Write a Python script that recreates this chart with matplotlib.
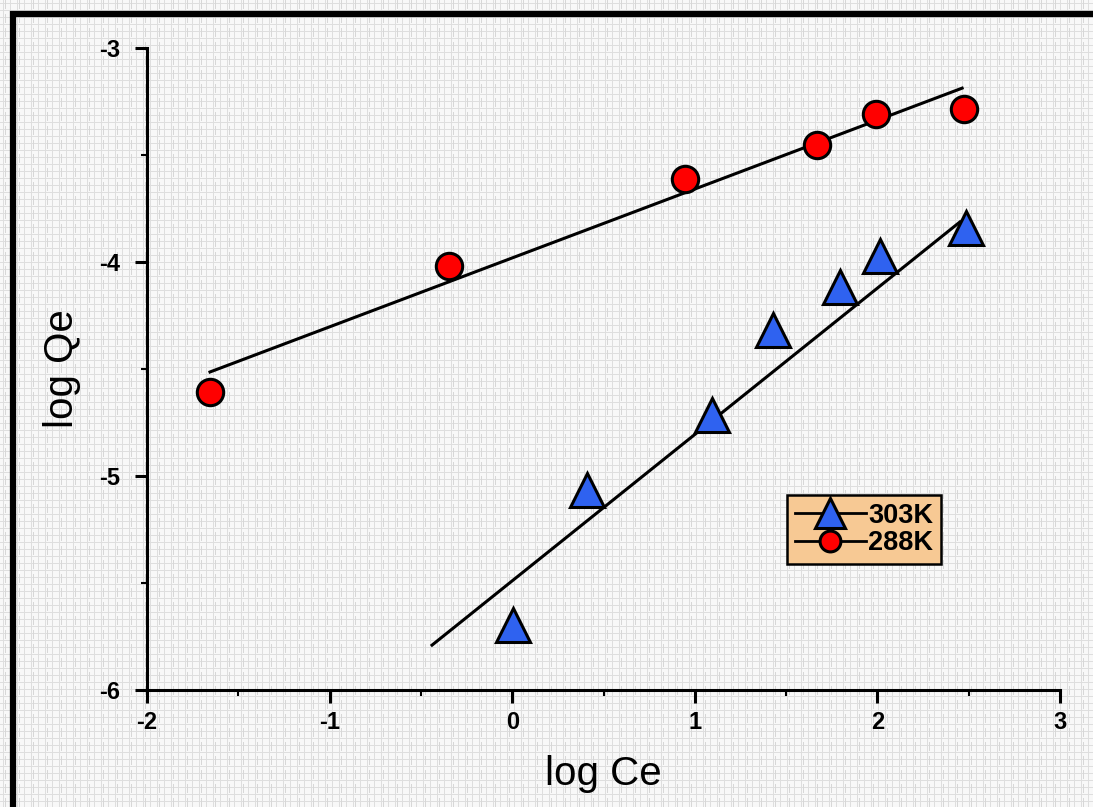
import numpy as np
import matplotlib
matplotlib.use('Agg')
import matplotlib.pyplot as plt
from matplotlib.lines import Line2D
from matplotlib.ticker import MultipleLocator

plt.rcParams['font.family'] = ['Liberation Sans', 'DejaVu Sans']
plt.rcParams['axes.unicode_minus'] = False

# Freundlich isotherm data, log Ce vs log Qe
logce_288 = [-1.655, -0.346, 0.946, 1.669, 1.992, 2.474]
logqe_288 = [-4.607, -4.019, -3.612, -3.453, -3.308, -3.285]
logce_303 = [0.004, 0.410, 1.094, 1.428, 1.795, 2.014, 2.485]
logqe_303 = [-5.696, -5.065, -4.715, -4.318, -4.117, -3.972, -3.841]

# fitted lines: slope, intercept, and x range drawn
fit_288 = (0.322, -3.981)
fit_303 = (0.684, -5.490)
fit_range_288 = [-1.655, 2.464]
fit_range_303 = [-0.439, 2.452]

fig = plt.figure(figsize=(10.93, 8.07), dpi=100)
fig.patch.set_facecolor('white')

# graph-paper background
bg = fig.add_axes([0, 0, 1, 1], zorder=-10)
h, w = 807, 1093
yy, xx = np.mgrid[0:h, 0:w]
paper = np.ones((h, w)) * 0.97
paper[(xx % 7 == 3)] = 0.87
paper[(yy % 7 == 3)] = 0.87
paper[(xx % 14 == 5) & (yy % 14 < 9)] = 0.84
bg.imshow(paper, cmap='gray', vmin=0, vmax=1, aspect='auto', interpolation='nearest')
bg.axis('off')

# frame at top and left edge
fig.add_artist(Line2D([10 / w, 1.0], [1 - 14 / h, 1 - 14 / h], color='black', lw=4.5,
                      transform=fig.transFigure, solid_capstyle='butt'))
fig.add_artist(Line2D([13 / w, 13 / w], [0.0, 1 - 11 / h], color='black', lw=4.5,
                      transform=fig.transFigure, solid_capstyle='butt'))

ax = fig.add_axes([147 / w, 117 / h, 913 / w, 642 / h])
ax.patch.set_alpha(0)

# linear fits
for (k, b), rng in [(fit_288, fit_range_288), (fit_303, fit_range_303)]:
    xf = np.array(rng)
    ax.plot(xf, k * xf + b, color='black', lw=2.2, zorder=2)

ax.plot(logce_303, logqe_303, linestyle='none', marker='^', markersize=25,
        markerfacecolor='#2f62f0', markeredgecolor='black', markeredgewidth=2.2, zorder=3)
ax.plot(logce_288, logqe_288, linestyle='none', marker='o', markersize=19,
        markerfacecolor='#ff0000', markeredgecolor='black', markeredgewidth=2.2, zorder=3)

ax.set_xlim(-2, 3)
ax.set_ylim(-6, -3)
ax.xaxis.set_major_locator(MultipleLocator(1))
ax.xaxis.set_minor_locator(MultipleLocator(0.5))
ax.yaxis.set_major_locator(MultipleLocator(1))
ax.yaxis.set_minor_locator(MultipleLocator(0.5))
for s in ['top', 'right']:
    ax.spines[s].set_visible(False)
for s in ['left', 'bottom']:
    ax.spines[s].set_linewidth(2.2)
ax.tick_params(which='major', direction='out', length=9, width=2.2)
ax.tick_params(axis='x', which='major', pad=6)
ax.tick_params(axis='y', which='major', pad=10)
ax.tick_params(which='minor', direction='out', length=4, width=1.5)
plt.setp(ax.get_xticklabels() + ax.get_yticklabels(), fontsize=17, fontweight='bold')

ax.set_xlabel('log Ce', fontsize=29, labelpad=15)
ax.set_ylabel('log Qe', fontsize=29, labelpad=13)

handles = [
    Line2D([], [], color='black', lw=2, marker='^', markersize=22,
           markerfacecolor='#2f62f0', markeredgecolor='black', markeredgewidth=2.2),
    Line2D([], [], color='black', lw=2, marker='o', markersize=15,
           markerfacecolor='#ff0000', markeredgecolor='black', markeredgewidth=2.2),
]
leg = ax.legend(handles, ['303K', '288K'], loc='upper left', bbox_to_anchor=(0.701, 0.304),
                frameon=True, fancybox=False, facecolor='#f7c994', edgecolor='black',
                framealpha=1, handlelength=2.6, handletextpad=0.1, labelspacing=0.05,
                borderpad=0.3, borderaxespad=0, prop={'size': 19.5, 'weight': 'bold'})
leg.get_frame().set_linewidth(1.8)

fig.savefig('out.png', dpi=100)
